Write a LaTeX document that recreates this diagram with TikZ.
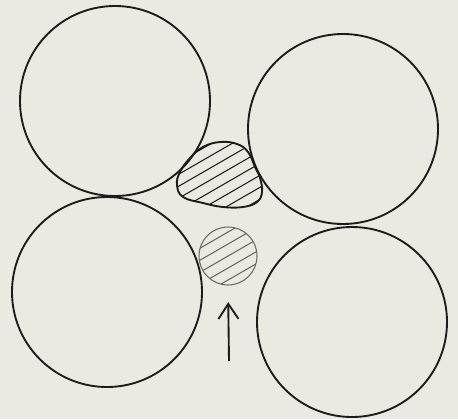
\documentclass[tikz,border=0pt]{standalone}
\usepackage{xcolor}
\usepackage{tikz}
\usetikzlibrary{arrows.meta, calc}
\definecolor{paper}{RGB}{234,234,226}
\definecolor{ink}{RGB}{28,28,28}
\definecolor{softink}{RGB}{105,105,100}

\begin{document}
\begin{tikzpicture}[x=0.03cm, y=-0.03cm,
    ball/.style={circle, draw=ink, line width=1.6pt, inner sep=0pt, minimum size=5.7cm},
    hatch/.style={line width=0.9pt},
    hole/.style={circle, draw=softink, line width=0.9pt, inner sep=0pt, minimum size=1.74cm},
    pusharrow/.style={draw=ink, line width=1.6pt, -{Straight Barb[length=4.5mm, width=6mm]}}]
  \fill[paper] (0,0) rectangle (458,419);
  \node[ball] (topleft) at (115,101) {};
  \node[ball] (topright) at (343,129) {};
  \node[ball] (bottomleft) at (107,292) {};
  \node[ball] (bottomright) at (352,322) {};
  \draw[draw=ink, line width=1.6pt, path picture={
      \foreach \k in {-6,...,6}
        \draw[hatch, ink] ($(path picture bounding box.center)+(-70,40.4+12*\k)$) -- ++(140,-80.8);
    }] plot[smooth cycle, tension=0.7] coordinates {
      (220,142) (237,144) (248,152) (255,167) (260,178) (262,192) (257,202)
      (243,207) (223,207) (203,203) (183,197) (177,185) (180,172) (190,158)
      (203,147)};
  \node[hole, path picture={
      \foreach \k in {-4,...,4}
        \draw[hatch, softink] ($(path picture bounding box.center)+(-50,28.9+12*\k)$) -- ++(100,-57.7);
    }] (hole) at (228,256) {};
  \coordinate (pushfrom) at (229,361);
  \draw[pusharrow, shorten >=0.5cm] (pushfrom) -- (hole.south);
\end{tikzpicture}
\end{document}
